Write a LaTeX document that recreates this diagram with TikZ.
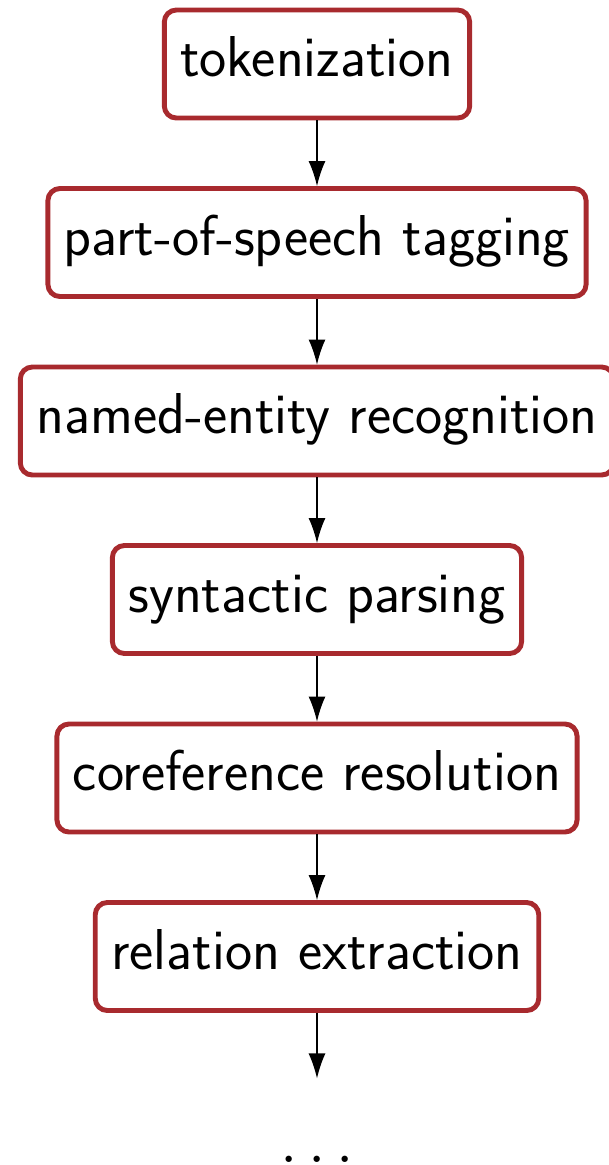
\documentclass[tikz,border=0pt]{standalone}
\usepackage{tikz}
\usetikzlibrary{arrows.meta}
\definecolor{boxred}{RGB}{168,42,46}

\begin{document}
\begin{tikzpicture}[node distance={17.85mm}, main/.style={draw=boxred, line width=1.4pt, rounded corners=1.2mm, minimum height=10.8mm, inner xsep=1.6mm, text height=0.72em, text depth=0pt}, font=\sffamily\fontsize{16.4}{20}\selectfont, >={Latex[length=2.5mm,width=1.7mm]}]
		\useasboundingbox (0,0) rectangle (6.09,-11.65);
		\node[main] (1) at (3.17,-0.64) {tokenization};
		\node[main] (2) [below of=1] {part-of-speech tagging};
		\node[main] (3) [below of=2] {named-entity recognition};
		\node[main] (4) [below of=3] {syntactic parsing};
		\node[main] (5) [below of=4] {coreference resolution};
		\node[main] (6) [below of=5] {relation extraction};
		\node[anchor=base, inner sep=0pt, font=\rmfamily\fontsize{22}{24}\selectfont] (7) at (3.17,-11.625) {.\hspace{0.85mm}.\hspace{0.85mm}.};

		\draw[->] (1) to (2);
		\draw[->] (2) to (3);
		\draw[->] (3) to (4);
		\draw[->] (4) to (5);
		\draw[->] (5) to (6);
		\draw[->, shorten >=7.7mm] (6) to (7);
	\end{tikzpicture}
\end{document}
